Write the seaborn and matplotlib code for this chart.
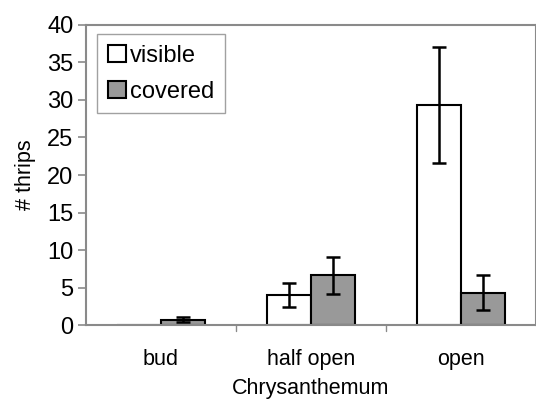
import matplotlib
matplotlib.use("Agg")
import matplotlib.pyplot as plt
import seaborn as sns
import pandas as pd

# ─── Data ───────────────────────────────────────────────────────────────────
stages = ["bud", "half open", "open"]
treatments = ["visible", "covered"]
visible_mean = [0.0, 4.0, 29.3]
visible_err = [0.0, 1.55, 7.7]
covered_mean = [0.7, 6.65, 4.3]
covered_err = [0.35, 2.45, 2.35]

df = pd.DataFrame({
    "stage": stages * 2,
    "treatment": ["visible"] * 3 + ["covered"] * 3,
    "thrips": visible_mean + covered_mean,
    "err": visible_err + covered_err,
})

# ─── Style ──────────────────────────────────────────────────────────────────
sns.set_style("white")
plt.rcParams["font.family"] = ["Liberation Sans", "DejaVu Sans"]
plt.rcParams["text.color"] = "black"
plt.rcParams["axes.labelcolor"] = "black"
GREY = "#8a8a8a"

fig = plt.figure(figsize=(5.36, 4.03), dpi=100)
ax = fig.add_axes([0.1604, 0.1935, 0.8396, 0.7445])

sns.barplot(data=df, x="stage", y="thrips", hue="treatment", order=stages,
            hue_order=treatments, palette={"visible": "white", "covered": "#999999"},
            edgecolor="black", linewidth=1.5, width=0.59, gap=0, errorbar=None,
            ax=ax)

# error bars placed on the bar patches
bars = [p for p in ax.patches if p.get_width() > 0][:6]
errs = visible_err + covered_err
for p, e in zip(bars, errs):
    if e == 0:
        continue
    ax.errorbar(p.get_x() + p.get_width() / 2, p.get_height(), yerr=e,
                fmt="none", ecolor="black", elinewidth=1.8, capsize=5,
                capthick=1.8, zorder=5)

ax.set_ylim(0, 40)
ax.set_xlim(-0.5, 2.5)
ax.set_yticks(range(0, 41, 5))
ax.set_xticks([0, 1, 2])
ax.set_xticklabels(stages)
ax.tick_params(axis="y", labelsize=17, length=6, color=GREY, width=1.2, direction="out",
               left=True, pad=3, labelcolor="black")
ax.tick_params(axis="x", labelsize=15.5, length=0, pad=17, labelcolor="black")
for x in [0.5, 1.5]:
    ax.plot([x, x], [0, -0.8], color=GREY, lw=1, clip_on=False)

for sp in ax.spines.values():
    sp.set_color(GREY)
    sp.set_linewidth(1.5)

ax.set_ylabel("# thrips", fontsize=15.5, labelpad=8)
ax.set_xlabel("Chrysanthemum", fontsize=15.5, labelpad=6)

leg = ax.legend(loc="upper left", bbox_to_anchor=(0.025, 0.97), fontsize=17,
                frameon=True, fancybox=False, edgecolor=GREY, handlelength=0.75,
                handleheight=0.75, handletextpad=0.2, borderpad=0.45,
                labelspacing=0.6, borderaxespad=0)
leg.get_frame().set_linewidth(1.0)

fig.savefig("out.png", dpi=100, facecolor="white")
